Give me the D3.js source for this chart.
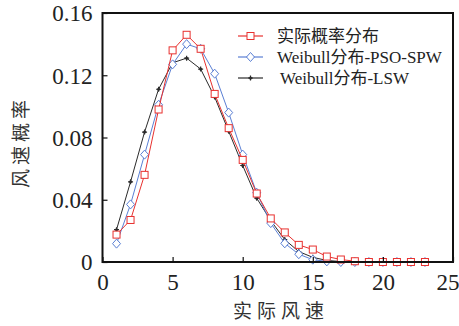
<!DOCTYPE html>
<html>
<head>
<meta charset="utf-8">
<script src="https://cdn.jsdelivr.net/npm/d3@7"></script>
<style>
  body { margin: 0; background: #fff; }
  svg { display: block; }
</style>
</head>
<body>
<div id="chart"></div>
<script>
// wind speed bins
var speeds = [1,2,3,4,5,6,7,8,9,10,11,12,13,14,15,16,17,18,19,20,21,22,23];
// measured probability
var actual = [0.0176,0.027,0.056,0.098,0.136,0.146,0.137,0.108,0.086,0.0656,0.044,0.028,0.019,0.011,0.008,0.0035,0.0016,0.0005,0,0,0,0,0];
// weibull fitted with PSO-SPW
var psoSpw = [0.0118,0.037,0.069,0.101,0.127,0.140,0.137,0.121,0.096,0.069,0.0445,0.025,0.012,0.005,0.0015,0.0004,0,0,0,0,0,0,0];
// weibull fitted with LSW
var lsw = [0.0208,0.0515,0.0835,0.111,0.128,0.131,0.124,0.106,0.084,0.062,0.041,0.0266,0.0144,0.0067,0.003,0.001,0.0003,0,0,0,0,0,0];

var xTicks = [0,5,10,15,20,25];
var yTicks = [0,0.04,0.08,0.12,0.16];
var legendNames = ["实际概率分布","Weibull分布-PSO-SPW","Weibull分布-LSW"];

var FONT = "'Liberation Serif', 'Times New Roman', Times, 'DejaVu Serif', 'Noto Sans CJK SC', serif";

var W = 459, H = 326;
var margin = {top: 13, right: 6, bottom: 64, left: 102.5};

var svg = d3.select("#chart").append("svg")
    .attr("width", W).attr("height", H);

var x = d3.scaleLinear().domain([0,25]).range([margin.left, W - margin.right]);
var y = d3.scaleLinear().domain([0,0.16]).range([H - margin.bottom, margin.top]);

var series = [
  {name: legendNames[2], vals: lsw, color: "#2b2b2b", marker: "plus"},
  {name: legendNames[1], vals: psoSpw, color: "#5a7fd4", marker: "diamond"},
  {name: legendNames[0], vals: actual, color: "#e8312f", marker: "square"}
];

var line = d3.line()
  .x(function(d){ return x(d[0]); })
  .y(function(d){ return y(d[1]); });

function drawMarker(g, type, color) {
  if (type == "square") {
    g.append("rect").attr("x",-3.5).attr("y",-3.5).attr("width",7).attr("height",7)
      .attr("fill","#fff").attr("stroke",color).attr("stroke-width",1);
  } else if (type == "diamond") {
    g.append("path").attr("d","M0,-4.5L4,0L0,4.5L-4,0Z")
      .attr("fill","#fff").attr("stroke",color).attr("stroke-width",1);
  } else {
    g.append("path").attr("d","M-2.5,0H2.5M0,-2.5V2.5")
      .attr("stroke",color).attr("stroke-width",1.2);
    g.append("circle").attr("r",1.5).attr("fill",color);
  }
}

series.forEach(function(s){
  var pts = speeds.map(function(v,i){ return [v, s.vals[i]]; });
  svg.append("path").datum(pts)
    .attr("d", line)
    .attr("fill","none")
    .attr("stroke", s.color)
    .attr("stroke-width", 1);
  pts.forEach(function(p){
    var g = svg.append("g").attr("transform","translate(" + x(p[0]) + "," + y(p[1]) + ")");
    drawMarker(g, s.marker, s.color);
  });
});

// axes (ticks inward)
var xAxis = d3.axisBottom(x).tickValues(xTicks).tickSizeInner(-5).tickSizeOuter(0).tickPadding(12)
  .tickFormat(d3.format("d"));
var yAxis = d3.axisLeft(y).tickValues(yTicks).tickSizeInner(-5).tickSizeOuter(0).tickPadding(10)
  .tickFormat(function(d){ return d === 0 ? "0" : d3.format(".2f")(d); });

var gx = svg.append("g").attr("transform","translate(0," + (H - margin.bottom) + ")").call(xAxis);
var gy = svg.append("g").attr("transform","translate(" + margin.left + ",0)").call(yAxis);
[gx, gy].forEach(function(g){
  g.attr("font-family", FONT).attr("font-size", 23);
  g.select(".domain").remove();
  g.selectAll(".tick line").attr("stroke","#111").attr("stroke-width",1.2);
  g.selectAll("text").style("font-family", FONT).style("font-size","23px").attr("fill","#222");
});
gx.selectAll("text").attr("dy","0.71em");
gy.selectAll("text").attr("dy","0.34em");
// keep the last x label inside the page
gx.selectAll(".tick").filter(function(d){ return d === 25; }).select("text")
  .attr("text-anchor","end").attr("x", 6);

// frame
svg.append("rect")
  .attr("x", margin.left).attr("y", margin.top)
  .attr("width", W - margin.right - margin.left)
  .attr("height", H - margin.bottom - margin.top)
  .attr("fill","none").attr("stroke","#111").attr("stroke-width",2);

// axis titles
svg.append("text")
  .attr("x", 281).attr("y", 318)
  .attr("text-anchor","middle")
  .style("font-family", FONT)
  .style("font-size","19px").style("letter-spacing","5px")
  .attr("fill","#333")
  .text("实际风速");

svg.append("text")
  .attr("transform","translate(28,142) rotate(-90)")
  .attr("text-anchor","middle")
  .style("font-family", FONT)
  .style("font-size","19px").style("letter-spacing","4px")
  .attr("fill","#333")
  .text("风速概率");

// legend
var legRows = [series[2], series[1], series[0]];
legRows.forEach(function(s,i){
  var ly = 36 + i * 21;
  svg.append("line").attr("x1",238).attr("x2",263).attr("y1",ly).attr("y2",ly)
    .attr("stroke", s.color).attr("stroke-width",1.2);
  var g = svg.append("g").attr("transform","translate(250.5," + ly + ")");
  drawMarker(g, s.marker, s.color);
  svg.append("text")
    .attr("x", i == 2 ? 280 : 277).attr("y", ly + 6)
    .style("font-family", FONT)
    .style("font-size","17px").attr("fill","#222")
    .text(s.name);
});
</script>
</body>
</html>
